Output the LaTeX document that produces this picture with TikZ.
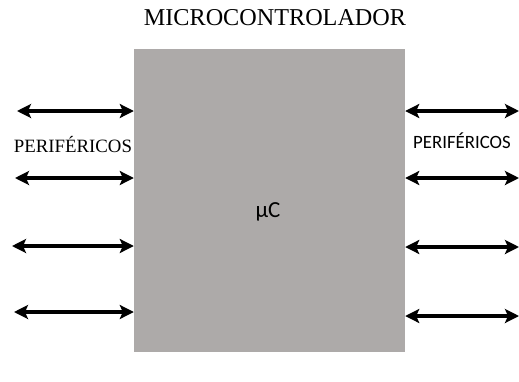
\documentclass[tikz,border=0pt]{standalone}
\usepackage{fontspec}
\setmainfont{Liberation Serif}
\newfontfamily\calibfont{Carlito}
\usetikzlibrary{arrows.meta,positioning}
\definecolor{chip}{HTML}{ADAAA9}

\begin{document}
\begin{tikzpicture}[x=1pt, y=-1pt,
  chipbox/.style={fill=chip, minimum width=271pt, minimum height=303pt, inner sep=0pt},
  io/.style={{Stealth[length=14pt,width=14pt,inset=3pt]}-{Stealth[length=14pt,width=14pt,inset=3pt]}, line width=3.2pt, draw=black},
  lbl/.style={inner sep=0pt}
]
  \useasboundingbox (0,0) rectangle (519,381);

  \node[chipbox] (mcu) at (269.5,200.5) {};
  \node[lbl, font=\calibfont\fontsize{23}{26}\selectfont] (muc) at (268,212) {μC};

  \node[lbl, font=\fontsize{24.2}{27}\selectfont] (title) at (275,18) {MICROCONTROLADOR};
  \node[lbl, font=\fontsize{18.8}{21}\selectfont] (perl) at (73,145) {PERIFÉRICOS};
  \node[lbl, font=\calibfont\fontsize{18.8}{21}\selectfont] (perr) at (462,141) {PERIFÉRICOS};

  % left side
  \coordinate (l1) at (17,111);
  \coordinate (l2) at (15,178);
  \coordinate (l3) at (12,246);
  \coordinate (l4) at (14,312);
  \foreach \c in {l1,l2,l3,l4}
    \draw[io] (\c) -- (\c -| mcu.west);

  % right side
  \coordinate (r1) at (519,111);
  \coordinate (r2) at (519,178);
  \coordinate (r3) at (519,247);
  \coordinate (r4) at (519,316);
  \foreach \c in {r1,r2,r3,r4}
    \draw[io] (\c -| mcu.east) -- (\c);

\end{tikzpicture}
\end{document}
